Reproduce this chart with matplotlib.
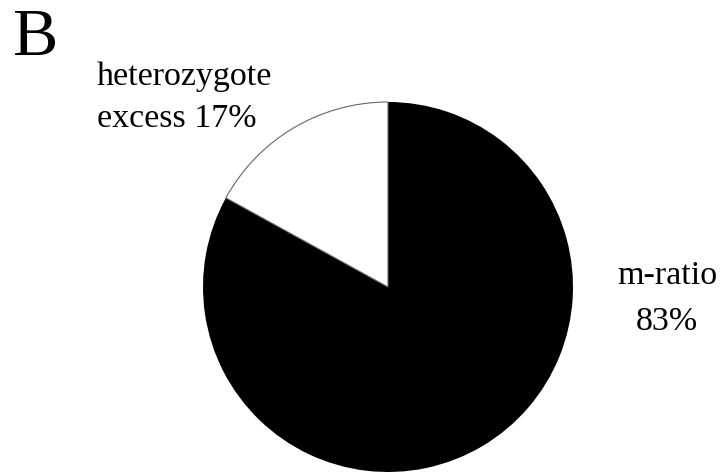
import matplotlib
matplotlib.use("Agg")
import matplotlib.pyplot as plt

plt.rcParams['font.family'] = ['Liberation Serif', 'DejaVu Serif']

# Data
categories = ["m-ratio", "heterozygote excess"]
values = [83, 17]
label_texts = ["m-ratio\n83%", "heterozygote\nexcess 17%"]
colors = ["black", "white"]
panel_letter = "B"

W, H = 721, 474
fig = plt.figure(figsize=(W / 100, H / 100), dpi=100)

cx, cy, r = 388, 287, 185
ax = fig.add_axes([(cx - r) / W, 1 - (cy + r) / H, 2 * r / W, 2 * r / H])
wedges, _ = ax.pie(values, colors=colors, startangle=90, counterclock=False,
                   radius=1.0, wedgeprops=dict(linewidth=0))
wedges[1].set_edgecolor("#666666")
wedges[1].set_linewidth(0.8)
ax.set_xlim(-1.0, 1.0)
ax.set_ylim(-1.0, 1.0)
ax.set_aspect('equal')
ax.axis('off')

def px(x, y):
    return x / W, 1 - y / H

fig.text(*px(12, 55), panel_letter, fontsize=49, ha='left', va='baseline')
fig.text(*px(97, 127), label_texts[1], fontsize=24.5, ha='left', va='baseline',
         linespacing=1.5)
fig.text(*px(667, 330), label_texts[0], fontsize=24.5, ha='center', va='baseline',
         linespacing=1.65, multialignment='center')

fig.savefig("out.png", dpi=100)
